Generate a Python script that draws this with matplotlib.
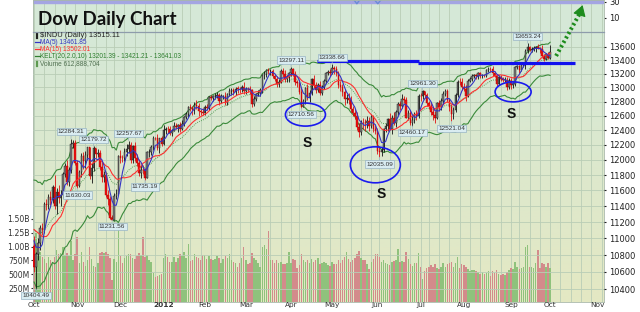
import numpy as np
import pandas as pd
import matplotlib
matplotlib.use("Agg")
import matplotlib.pyplot as plt
from matplotlib.patches import Ellipse
from matplotlib.lines import Line2D
from matplotlib.colors import LinearSegmentedColormap
from matplotlib.transforms import ScaledTranslation

# ---- data: Dow Jones Industrial Average, daily (Oct 2011 - Oct 1 2012) ----
holidays = ["2011-11-24", "2011-12-26", "2012-01-02", "2012-01-16", "2012-02-20",
            "2012-04-06", "2012-05-28", "2012-07-04", "2012-09-03"]

# Sep 2011, only used to warm up the indicators
warm_close = [11493.57, 11240.26, 11139.30, 11414.86, 11295.81, 10992.13, 11061.12,
              11105.85, 11246.73, 11433.18, 11509.09, 11401.01, 11408.66, 11124.84,
              10733.83, 10771.48, 11043.86, 11190.69, 10938.33, 11153.98, 10913.38]
warm_hi = [90, 60, 100, 40, 60, 40, 110, 80, 70, 40, 50, 60, 70, 40, 30, 90, 60, 120, 80, 90, 60]
warm_lo = [60, 40, 60, 90, 70, 60, 90, 60, 80, 50, 60, 60, 50, 60, 110, 90, 60, 40, 50, 40, 40]

closes = [
    # Oct 2011
    10655.30, 10808.71, 10939.95, 11123.33, 11103.12, 11433.18, 11416.30, 11518.85, 11478.13,
    11644.49, 11397.00, 11577.05, 11504.62, 11541.78, 11808.79, 11913.62, 11706.62, 11869.04,
    12208.55, 12231.11, 11955.01,
    # Nov
    11657.96, 11836.04, 12044.47, 11983.24, 12068.39, 12170.18, 11780.94, 11893.86, 12153.68,
    12078.98, 12096.16, 11905.59, 11770.73, 11796.16, 11547.31, 11493.72, 11257.55, 11231.78,
    11523.01, 11555.63, 12045.68,
    # Dec
    12020.03, 12019.42, 12097.83, 12150.13, 12196.37, 11997.70, 12184.26, 12021.39, 11954.94,
    11823.48, 11868.81, 11866.39, 11766.26, 12103.58, 12107.74, 12169.65, 12294.00, 12291.35,
    12151.41, 12287.04, 12217.56,
    # Jan 2012
    12397.38, 12418.42, 12415.70, 12359.92, 12392.69, 12462.47, 12449.45, 12471.02, 12422.06,
    12482.07, 12578.95, 12623.98, 12720.48, 12708.82, 12675.75, 12756.96, 12734.63, 12660.46,
    12653.72, 12632.91,
    # Feb
    12716.46, 12705.41, 12862.23, 12845.13, 12878.20, 12883.95, 12890.46, 12801.23, 12874.04,
    12878.28, 12780.95, 12904.08, 12949.87, 12965.69, 12938.67, 12984.69, 12982.95, 12981.51,
    13005.12, 12952.07,
    # Mar
    12980.30, 12977.57, 12962.81, 12759.15, 12837.33, 12907.94, 12922.02, 12959.71, 13177.68,
    13194.10, 13252.76, 13232.62, 13239.13, 13170.19, 13124.62, 13046.14, 13080.73, 13241.63,
    13197.73, 13126.21, 13145.82, 13212.04,
    # Apr
    13264.49, 13199.55, 13074.75, 13060.14, 12929.59, 12715.93, 12805.39, 12986.58, 12849.59,
    12921.41, 13115.54, 13032.75, 12964.10, 13029.26, 12927.17, 13001.56, 13090.72, 13204.62,
    13228.31, 13213.63,
    # May
    13279.32, 13268.57, 13206.59, 13038.27, 13008.53, 12932.09, 12835.06, 12855.04, 12820.60,
    12695.35, 12632.00, 12598.55, 12442.49, 12369.38, 12504.48, 12502.81, 12496.15, 12529.75,
    12454.83, 12580.69, 12419.86, 12393.45,
    # Jun
    12118.57, 12101.46, 12127.95, 12414.79, 12460.96, 12554.20, 12411.23, 12573.80, 12496.38,
    12651.91, 12767.17, 12741.82, 12837.33, 12824.39, 12573.57, 12640.78, 12502.66, 12534.67,
    12627.01, 12602.26, 12880.09,
    # Jul
    12871.39, 12943.82, 12896.67, 12772.47, 12736.29, 12653.12, 12604.53, 12573.27, 12777.09,
    12727.21, 12805.54, 12908.70, 12943.36, 12822.57, 12721.46, 12617.32, 12676.05, 12887.93,
    13075.66, 13073.01, 13008.68,
    # Aug
    12976.13, 12878.88, 13096.17, 13117.51, 13168.60, 13175.64, 13165.19, 13207.95, 13169.43,
    13172.14, 13164.78, 13250.11, 13275.20, 13271.64, 13203.58, 13172.76, 13057.46, 13157.97,
    13124.67, 13102.99, 13107.48, 13000.71, 13090.84,
    # Sep
    13035.94, 13047.48, 13292.00, 13306.64, 13254.29, 13323.36, 13333.35, 13539.86, 13593.37,
    13553.10, 13564.64, 13577.96, 13596.93, 13579.47, 13558.92, 13457.55, 13413.51, 13485.97,
    13437.13,
    # Oct 1 2012
    13515.11,
]

# upper / lower wick lengths (points beyond the candle body)
hi_wick = [
    120, 30, 60, 40, 70, 20, 60, 40, 70, 20, 150, 60, 90, 60, 30, 40, 80, 30, 76, 30, 40,
    40, 30, 40, 60, 50, 5, 0, 60, 26, 10, 50, 40, 60, 50, 40, 60, 30, 30, 40, 60, 20,
    80, 50, 60, 60, 61, 40, 20, 60, 50, 60, 60, 60, 30, 20, 40, 30, 20, 10, 50, 10, 40,
    80, 30, 40, 40, 30, 50, 30, 20, 40, 60, 20, 30, 20, 40, 30, 40, 60, 40, 40, 60,
    40, 50, 20, 30, 20, 30, 40, 30, 30, 20, 50, 20, 40, 30, 20, 20, 30, 30, 30, 80,
    30, 30, 40, 20, 40, 20, 40, 30, 20, 40, 20, 30, 30, 30, 30, 40, 40, 30, 40, 50, 40, 20,
    33, 20, 40, 40, 40, 70, 30, 20, 60, 40, 20, 60, 50, 30, 60, 40, 30, 20, 30, 40,
    59, 40, 40, 40, 60, 40, 50, 50, 60, 60, 40, 60, 50, 60, 40, 60, 50, 60, 50, 50, 30, 50,
    30, 60, 50, 20, 40, 20, 90, 30, 80, 30, 20, 40, 70, 40, 40, 40, 40, 60, 30, 50, 20,
    40, 17, 10, 30, 40, 50, 70, 60, 20, 40, 40, 40, 30, 40, 30, 50, 40, 30, 30, 60, 60,
    60, 60, 30, 30, 20, 20, 20, 20, 20, 20, 20, 20, 20, 20, 40, 40, 30, 20, 30, 30, 40, 40, 40,
    50, 30, 20, 20, 20, 20, 30, 20, 60, 25, 35, 40, 20, 50, 20, 60, 30, 25, 30,
    105,
]
lo_wick = [
    60, 251, 70, 80, 60, 40, 60, 50, 60, 40, 30, 90, 60, 100, 40, 30, 30, 50, 40, 50, 20,
    28, 10, 60, 110, 90, 70, 30, 90, 40, 60, 40, 40, 60, 60, 30, 80, 15, 0, 0, 30, 20,
    60, 50, 40, 50, 60, 40, 40, 40, 40, 30, 60, 50, 31, 10, 60, 40, 40, 30, 20, 60, 30,
    20, 50, 60, 30, 40, 10, 30, 70, 40, 20, 20, 30, 40, 40, 60, 50, 40, 60, 50, 20,
    20, 20, 30, 30, 40, 40, 30, 50, 20, 40, 30, 30, 30, 60, 40, 50, 60, 60, 50, 40,
    50, 40, 60, 40, 20, 30, 30, 40, 40, 60, 40, 40, 50, 40, 30, 40, 40, 20, 40, 40, 50, 60,
    40, 30, 40, 50, 30, 5, 0, 40, 30, 50, 30, 40, 50, 30, 40, 40, 30, 30, 30, 40,
    20, 70, 40, 40, 60, 60, 80, 60, 60, 40, 40, 50, 40, 60, 40, 80, 110, 60, 60, 30, 40, 50,
    40, 66, 50, 30, 40, 70, 10, 70, 30, 50, 40, 60, 30, 40, 10, 30, 30, 42, 40, 60, 30,
    60, 30, 40, 40, 40, 40, 60, 70, 20, 60, 50, 40, 30, 30, 60, 96, 60, 30, 20, 40, 40,
    30, 70, 20, 20, 30, 30, 40, 40, 30, 30, 20, 20, 30, 40, 30, 20, 40, 20, 30, 30, 30, 30, 20,
    60, 40, 20, 30, 40, 20, 30, 60, 30, 15, 30, 25, 50, 20, 50, 5, 25, 15, 20,
    20,
]

# volume, millions of shares
volume = [
    1150, 1250, 980, 900, 820, 780, 700, 820, 760, 700, 810, 940, 870, 880, 1000, 850, 880, 830, 1100, 760, 870,
    1170, 700, 900, 720, 650, 760, 990, 780, 650, 640, 700, 880, 900, 880, 900, 860, 800, 400, 780, 720, 1420,
    830, 700, 800, 830, 870, 860, 800, 780, 830, 880, 850, 1180, 820, 850, 760, 720, 520, 460, 470, 480, 500,
    800, 870, 820, 720, 730, 810, 720, 800, 860, 830, 900, 800, 1050, 740, 760, 870, 820, 800, 760, 850,
    840, 780, 830, 770, 760, 780, 830, 800, 700, 770, 830, 790, 870, 760, 720, 700, 640, 710, 790, 1000,
    760, 680, 700, 880, 790, 760, 700, 640, 1000, 1030, 960, 1280, 760, 750, 700, 760, 700, 730, 680, 690, 700, 900,
    700, 780, 760, 620, 660, 860, 760, 720, 760, 700, 770, 730, 760, 800, 680, 700, 720, 710, 660, 650,
    720, 690, 690, 760, 700, 760, 820, 900, 780, 720, 760, 790, 870, 920, 790, 750, 760, 690, 600, 720, 780, 860,
    870, 810, 720, 760, 700, 680, 660, 720, 740, 760, 950, 720, 740, 720, 900, 780, 680, 650, 700, 700, 880,
    640, 420, 560, 620, 640, 660, 640, 680, 620, 600, 640, 700, 640, 680, 700, 720, 640, 700, 820, 620, 680,
    660, 640, 600, 560, 580, 580, 560, 550, 500, 540, 500, 520, 560, 470, 560, 520, 580, 500, 480, 500, 480, 540, 580,
    620, 600, 720, 640, 600, 620, 640, 1000, 1030, 640, 640, 620, 700, 930, 620, 700, 680, 640, 700,
    613,
]

# labelled highs / lows
ann_dates = ["2011-10-04", "2011-10-27", "2011-11-01", "2011-11-11", "2011-11-25", "2011-12-07",
             "2011-12-19", "2012-04-02", "2012-04-10", "2012-05-01", "2012-06-04", "2012-06-26",
             "2012-07-03", "2012-07-24", "2012-09-14"]
ann_vals = [10404.49, 12284.31, 11630.03, 12179.72, 11231.56, 12257.67, 11735.19, 13297.11,
            12710.56, 13338.66, 12035.09, 12460.17, 12961.30, 12521.04, 13653.24]
ann_side = ["low", "high", "low", "high", "low", "high", "low", "high",
            "low", "high", "low", "low", "high", "low", "high"]

# hand-drawn markup
support_segs = [("2012-04-20", "2012-06-29", 13380), ("2012-06-29", "2012-10-17", 13360)]
circles = [("2012-04-12", 12616, 40, 23), ("2012-05-31", 11934, 50, 36), ("2012-09-05", 12937, 36, 20)]
s_marks = [("2012-04-13", 12225), ("2012-06-05", 11557), ("2012-09-04", 12623)]

price_ticks = list(range(10400, 13601, 200))
vol_ticks = [250, 500, 750, 1000, 1250, 1500]
vol_labels = ["250M", "500M", "750M", "1.00B", "1.25B", "1.50B"]

# ---- build series ----
days = pd.bdate_range("2011-10-03", "2012-11-30", freq="C", holidays=holidays)
n = len(closes)
x = np.arange(n)

allc = np.array(warm_close + closes)
allhw = np.array(warm_hi + hi_wick)
alllw = np.array(warm_lo + lo_wick)
allo = np.concatenate([[allc[0]], allc[:-1]])
allh = np.maximum(allo, allc) + allhw
alll = np.minimum(allo, allc) - alllw

s = pd.Series(allc)
ma5 = s.rolling(5).mean().values
ma15 = s.rolling(15).mean().values
ema20 = s.ewm(span=20, adjust=False).mean().values
prev = np.concatenate([[allc[0]], allc[:-1]])
tr = np.maximum(allh, prev) - np.minimum(alll, prev)
atr = pd.Series(tr).ewm(alpha=1 / 10, adjust=False).mean().values
kup = ema20 + 2 * atr
kdn = ema20 - 2 * atr

w0 = len(warm_close)
o, c, h, l = allo[w0:], allc[w0:], allh[w0:], alll[w0:]
ma5, ma15, ema20, kup, kdn = ma5[w0:], ma15[w0:], ema20[w0:], kup[w0:], kdn[w0:]
up = c >= o

def idx(d):
    return days.get_loc(pd.Timestamp(d))

# ---- figure ----
W, H = 640, 312
L, R, T, B = 33, 604, 31.5, 302
fig = plt.figure(figsize=(W / 100, H / 100), dpi=100)
fig.patch.set_facecolor("white")
rect = [L / W, 1 - B / H, (R - L) / W, (B - T) / H]
ax_v = fig.add_axes(rect, zorder=1)
ax = fig.add_axes(rect, zorder=3)
ax.patch.set_visible(False)
ax_t = fig.add_axes([L / W, 1 - T / H, (R - L) / W, T / H], zorder=2)

xlim = (-0.5, 277.2)
grid_c = "#b9cdb6"

# background gradient
bg = LinearSegmentedColormap.from_list("bg", ["#d5e8d7", "#e4e8c3"])
ax_v.imshow(np.linspace(0, 1, 256).reshape(-1, 1), cmap=bg, aspect="auto",
            extent=[0, 1, 0, 1], transform=ax_v.transAxes, zorder=0)

# weekly vertical grid lines
wk = pd.Series(days.isocalendar().week.values)
week_starts = np.where(wk.diff().fillna(1).values != 0)[0]
for ws in week_starts:
    ax_v.axvline(ws, color=grid_c, lw=0.6, zorder=1)
    ax_t.axvline(ws, color=grid_c, lw=0.6, zorder=1)

# volume
vcol = np.where(up, "#8fc27c", "#d38b8b")
ax_v.bar(x, volume, width=0.72, color=vcol, zorder=2, linewidth=0)
ax_v.set_xlim(*xlim)
ax_v.set_ylim(0, 4880)
ax_v.set_yticks(vol_ticks)
ax_v.set_yticklabels(vol_labels)
ax_v.tick_params(axis="y", labelsize=5.6, length=1.5, pad=1, colors="#333333")
ax_v.set_xticks([])
for sp in ax_v.spines.values():
    sp.set_color("#a8b8a8")
    sp.set_linewidth(0.6)

# price panel
ax.set_yscale("log")
ax.set_xlim(*xlim)
ax.set_ylim(10253, 13831)
ax.yaxis.tick_right()
ax.set_yticks(price_ticks)
ax.set_yticklabels([str(t) for t in price_ticks])
ax.yaxis.set_minor_locator(plt.NullLocator())
ax.tick_params(axis="y", labelsize=6, length=1.5, pad=2, colors="#222222")
for t in price_ticks:
    ax.axhline(t, color=grid_c, lw=0.6, zorder=0)
for sp in ax.spines.values():
    sp.set_visible(False)

# month ticks
mon = pd.Series(days.month.values)
month_starts = np.where(mon.diff().fillna(1).values != 0)[0]
mlabels = []
for ms in month_starts:
    d = days[ms]
    mlabels.append(str(d.year) if d.month == 1 else d.strftime("%b"))
ax.set_xticks(month_starts)
ax.set_xticklabels(mlabels)
ax.tick_params(axis="x", labelsize=5.3, length=0, pad=0.3, colors="#333333")
for lab in ax.get_xticklabels():
    if lab.get_text() == "2012":
        lab.set_fontweight("bold")

# keltner channel and moving averages
ax.plot(x, kup, color="#3a8a3a", lw=0.8, zorder=3)
ax.plot(x, kdn, color="#3a8a3a", lw=0.8, zorder=3)
ax.plot(x, ema20, color="#5aa05a", lw=0.7, ls=(0, (1, 1.2)), zorder=3)

# candles
ax.vlines(x, l, h, colors=np.where(up, "#111111", "#e01010"), lw=0.6, zorder=4)
body = np.maximum(np.abs(c - o), 3)
ax.bar(x, body, bottom=np.minimum(o, c), width=0.72,
       color=np.where(up, "#7d7d7d", "#ee1111"),
       edgecolor=np.where(up, "#111111", "#b00000"), linewidth=0.3, zorder=5)

ax.plot(x, ma15, color="#ff3030", lw=0.8, zorder=6)
ax.plot(x, ma5, color="#3434c4", lw=0.8, zorder=6)

# labelled highs / lows
for d, v, side in zip(ann_dates, ann_vals, ann_side):
    dy = 5 if side == "high" else -5
    ax.annotate(f"{v:.2f}", xy=(idx(d), v), xytext=(0, dy), textcoords="offset points",
                ha="center", va="center", fontsize=4.6, color="#333333", zorder=9,
                family="Liberation Sans",
                bbox=dict(boxstyle="square,pad=0.18", fc="#d9ecf1", ec="#98b4c4", lw=0.5),
                arrowprops=dict(arrowstyle="-", color="#98b4c4", lw=0.5, shrinkA=0, shrinkB=0))

# support line
for d0, d1, v in support_segs:
    ax.plot([idx(d0) - 0.3, idx(d1)], [v, v], color="#1010ee", lw=2.3, solid_capstyle="butt", zorder=8)

# circles and S marks
for d, v, wpx, hpx in circles:
    tr_c = fig.dpi_scale_trans + ScaledTranslation(idx(d), v, ax.transData)
    e = Ellipse((0, 0), wpx / 100, hpx / 100, transform=tr_c, fill=False,
                ec="#1a1aee", lw=1.2, zorder=8)
    ax.add_patch(e)
for d, v in s_marks:
    ax.text(idx(d), v, "S", fontsize=10, fontweight="bold", family="Liberation Sans",
            ha="center", va="center", color="#111111", zorder=9)

# dotted green arrow: dotted shaft + solid head
arrow_from = (253.9, 13462)
arrow_to = (265.6, 14120)
ax.plot([arrow_from[0], arrow_to[0]], [arrow_from[1], arrow_to[1]], color="#1d8c1d",
        lw=2.9, ls=(0, (0.55, 0.7)), clip_on=False, zorder=10)
ax.annotate("", xy=(266.8, 14240), xytext=arrow_to, annotation_clip=False,
            arrowprops=dict(arrowstyle="-|>,head_length=0.65,head_width=0.4", lw=0.8,
                            color="#1d8c1d", shrinkA=0, shrinkB=0),
            zorder=10)

# top indicator strip
ind_idx = [150, 155.5, 157, 158.5, 165.5, 167.2, 168.8, 175]
ind_val = [36, 33, 27.8, 33, 33, 27.8, 33, 36]
ax_t.set_facecolor("#d5e8d7")
ax_t.axhspan(28.8, 40, color="#a4a4e2", zorder=1)
ax_t.plot(ind_idx, ind_val, color="#6a8ad8", lw=1, zorder=2)
ax_t.set_xlim(*xlim)
ax_t.set_ylim(-6.9, 32.5)
ax_t.yaxis.tick_right()
ax_t.set_yticks([10, 30])
ax_t.tick_params(axis="y", labelsize=6, length=1.5, pad=2, colors="#222222")
ax_t.set_xticks([])
for sp in ax_t.spines.values():
    sp.set_color("#a8b8a8")
    sp.set_linewidth(0.6)
ax_t.spines["bottom"].set_color("#8e9cab")
ax_t.spines["bottom"].set_linewidth(0.9)

# title
fig.text(38 / W, 1 - 20 / H, "Dow Daily Chart", fontsize=13.5, fontweight="bold",
         family="Lato", va="center", ha="left", color="#111111", zorder=20)

# legend block
leg = [
    ("$INDU (Daily) 13515.11", "#222222", 5.4, None),
    ("MA(5) 13461.85", "#3434c4", 4.7, "#3434c4"),
    ("MA(15) 13502.01", "#ff3030", 4.7, "#ff3030"),
    ("KELT(20,2.0,10) 13201.39 - 13421.21 - 13641.03", "#2f7f2f", 4.7, "#2f7f2f"),
    ("Volume 612,888,704", "#4f6f4f", 4.7, None),
]
for k, (txt, col, fs, lc) in enumerate(leg):
    py = 35.5 + k * 6.9
    fig.text(40.5 / W, 1 - py / H, txt, fontsize=fs, color=col, va="center", ha="left",
             family="Liberation Sans", zorder=20)
    if lc:
        fig.add_artist(Line2D([35 / W, 39.5 / W], [1 - py / H, 1 - py / H], color=lc, lw=0.9))
fig.add_artist(Line2D([36.5 / W, 36.5 / W], [1 - 38 / H, 1 - 33 / H], color="#222222", lw=1.6))
fig.add_artist(Line2D([36.5 / W, 36.5 / W], [1 - 65.5 / H, 1 - 61 / H], color="#5e9a50", lw=1.6))

fig.savefig("out.png", dpi=100, facecolor="white")
